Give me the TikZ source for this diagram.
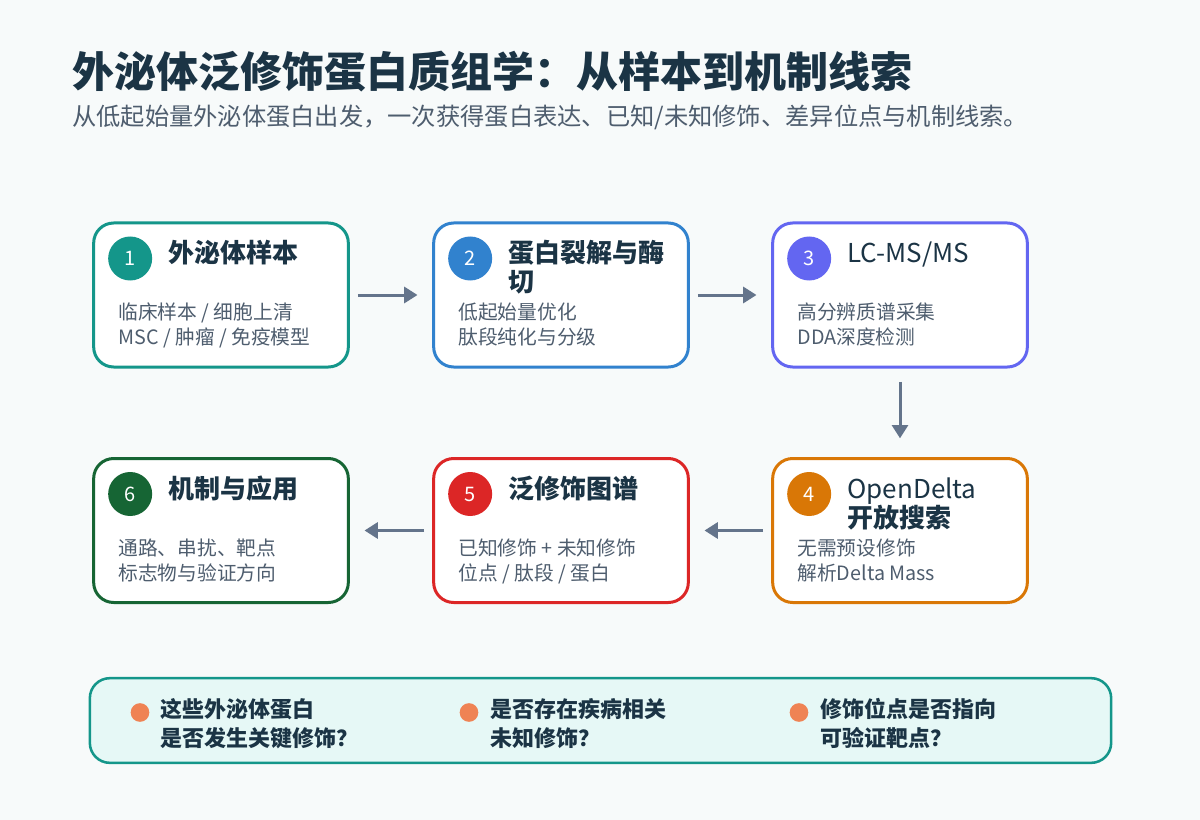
\documentclass[tikz,border=0pt]{standalone}
\usepackage{fontspec}
\setmainfont{Noto Sans CJK SC}
\usetikzlibrary{arrows.meta,positioning,calc}

\definecolor{pagebg}{HTML}{F7FAFA}
\definecolor{ink}{HTML}{1B3445}
\definecolor{note}{HTML}{4E5D6E}
\definecolor{flowgrey}{HTML}{64748B}
\definecolor{cteal}{HTML}{14968A}
\definecolor{cblue}{HTML}{3182CE}
\definecolor{cindigo}{HTML}{6366F1}
\definecolor{corange}{HTML}{D97706}
\definecolor{cred}{HTML}{DC2626}
\definecolor{cgreen}{HTML}{166534}
\definecolor{panelfill}{HTML}{E6F8F6}
\definecolor{dotorange}{HTML}{EF8354}

\begin{document}
\begin{tikzpicture}[
    x=0.75pt,y=-0.75pt,
    stepbox/.style={rectangle,draw,fill=white,line width=2.25pt,rounded corners=15pt,minimum width=191pt,minimum height=108pt,inner sep=0pt},
    numdot/.style={circle,inner sep=0pt,minimum size=33pt,text=white,font=\fontsize{15}{16}\selectfont},
    steptitle/.style={anchor=base west,inner sep=0pt,align=left,text=ink,font=\fontsize{19.5}{21.75}\selectfont\bfseries},
    stepnote/.style={anchor=base west,inner sep=0pt,align=left,text=note,font=\fontsize{14.8}{18.75}\selectfont},
    flow/.style={draw=flowgrey,line width=2.25pt,-{Triangle[length=10pt,width=12pt]},shorten <=6pt,shorten >=11pt},
    qdot/.style={circle,fill=dotorange,inner sep=0pt,minimum size=14pt},
    qtext/.style={anchor=base west,inner sep=0pt,align=left,text=ink,font=\fontsize{16.5}{21.75}\selectfont\bfseries}
]
    \fill[pagebg] (0,0) rectangle (1200,820);
    \useasboundingbox (0,0) rectangle (1200,820);

    \node[anchor=base west,inner sep=0pt,text=ink,font=\fontsize{31.5}{34}\selectfont\bfseries] (title) at (72,88) {外泌体泛修饰蛋白质组学：从样本到机制线索};
    \node[anchor=base west,inner sep=0pt,text=note,font=\fontsize{18.2}{20}\selectfont] (subtitle) at (72,126) {从低起始量外泌体蛋白出发，一次获得蛋白表达、已知/未知修饰、差异位点与机制线索。};

    \node[stepbox,draw=cteal] (sample) at (221,295) {};
    \node[stepbox,draw=cblue] (lysis) at (561,295) {};
    \node[stepbox,draw=cindigo] (lcms) at (900,295) {};
    \node[stepbox,draw=corange] (opendelta) at (900,530.5) {};
    \node[stepbox,draw=cred] (ptmmap) at (561,530.5) {};
    \node[stepbox,draw=cgreen] (mechanism) at (221,530.5) {};

    \node[numdot,fill=cteal] (sample-num) at ($(sample.north west)+(38,37)$) {1};
    \node[steptitle] (sample-title) at ($(sample.north west)+(76,41)$) {外泌体样本};
    \node[stepnote] (sample-note) at ($(sample.north west)+(26,123)$) {临床样本 / 细胞上清\\MSC / 肿瘤 / 免疫模型};

    \node[numdot,fill=cblue] (lysis-num) at ($(lysis.north west)+(38,37)$) {2};
    \node[steptitle] (lysis-title) at ($(lysis.north west)+(76,70)$) {蛋白裂解与酶\\切};
    \node[stepnote] (lysis-note) at ($(lysis.north west)+(26,123)$) {低起始量优化\\肽段纯化与分级};

    \node[numdot,fill=cindigo] (lcms-num) at ($(lcms.north west)+(38,37)$) {3};
    \node[steptitle,font=\fontsize{19.5}{21.75}\selectfont] (lcms-title) at ($(lcms.north west)+(76,41)$) {LC-MS/MS};
    \node[stepnote] (lcms-note) at ($(lcms.north west)+(26,123)$) {高分辨质谱采集\\DDA深度检测};

    \node[numdot,fill=corange] (opendelta-num) at ($(opendelta.north west)+(38,37)$) {4};
    \node[steptitle] (opendelta-title) at ($(opendelta.north west)+(76,70)$) {{\mdseries OpenDelta}\\开放搜索};
    \node[stepnote] (opendelta-note) at ($(opendelta.north west)+(26,123)$) {无需预设修饰\\解析Delta Mass};

    \node[numdot,fill=cred] (ptmmap-num) at ($(ptmmap.north west)+(38,37)$) {5};
    \node[steptitle] (ptmmap-title) at ($(ptmmap.north west)+(76,41)$) {泛修饰图谱};
    \node[stepnote] (ptmmap-note) at ($(ptmmap.north west)+(26,123)$) {已知修饰 + 未知修饰\\位点 / 肽段 / 蛋白};

    \node[numdot,fill=cgreen] (mechanism-num) at ($(mechanism.north west)+(38,37)$) {6};
    \node[steptitle] (mechanism-title) at ($(mechanism.north west)+(76,41)$) {机制与应用};
    \node[stepnote] (mechanism-note) at ($(mechanism.north west)+(26,123)$) {通路、串扰、靶点\\标志物与验证方向};

    \draw[flow] (sample) -- (lysis);
    \draw[flow] (lysis) -- (lcms);
    \draw[flow,shorten <=10pt,shorten >=14pt] (lcms) -- (opendelta);
    \draw[flow] (opendelta) -- (ptmmap);
    \draw[flow] (ptmmap) -- (mechanism);

    \node[rectangle,draw=cteal,fill=panelfill,line width=1.9pt,rounded corners=15pt,minimum width=766pt,minimum height=63.5pt,inner sep=0pt] (questions) at (600.5,720.5) {};

    \node[qdot] (q1-dot) at (140,712.5) {};
    \node[qtext] (q1) at ($(q1-dot)+(20,33.5)$) {这些外泌体蛋白\\是否发生关键修饰？};
    \node[qdot] (q2-dot) at (469,712.5) {};
    \node[qtext] (q2) at ($(q2-dot)+(21,33.5)$) {是否存在疾病相关\\未知修饰？};
    \node[qdot] (q3-dot) at (799,712.5) {};
    \node[qtext] (q3) at ($(q3-dot)+(21,33.5)$) {修饰位点是否指向\\可验证靶点？};
\end{tikzpicture}
\end{document}
